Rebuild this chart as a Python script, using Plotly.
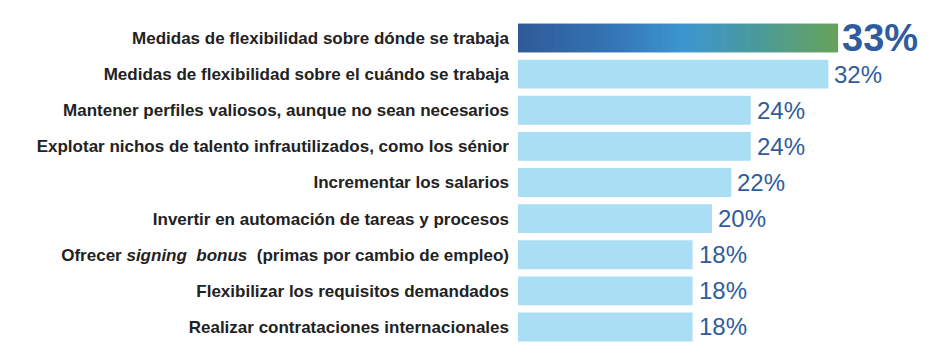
import plotly.graph_objects as go

categories = [
    "Medidas de flexibilidad sobre dónde se trabaja",
    "Medidas de flexibilidad sobre el cuándo se trabaja",
    "Mantener perfiles valiosos, aunque no sean necesarios",
    "Explotar nichos de talento infrautilizados, como los sénior",
    "Incrementar los salarios",
    "Invertir en automación de tareas y procesos",
    "Ofrecer <i>signing  bonus</i>  (primas por cambio de empleo)",
    "Flexibilizar los requisitos demandados",
    "Realizar contrataciones internacionales",
]
values = [33, 32, 24, 24, 22, 20, 18, 18, 18]
labels = ["33%", "32%", "24%", "24%", "22%", "20%", "18%", "18%", "18%"]

LIGHT = "#aadef5"
LABEL_BLUE = "#2f5c9c"
N_SEG = 80

fig = go.Figure()

fig.add_trace(go.Bar(
    y=categories[1:], x=values[1:], orientation="h",
    marker=dict(color=LIGHT, line=dict(width=0)),
    width=0.8, hoverinfo="skip", showlegend=False,
))

v0 = values[0]
seg_w = v0 / N_SEG
fig.add_trace(go.Bar(
    y=[categories[0]] * N_SEG,
    x=[seg_w * 1.02] * N_SEG,
    base=[seg_w * i for i in range(N_SEG)],
    orientation="h",
    marker=dict(
        color=[i / (N_SEG - 1) for i in range(N_SEG)],
        colorscale=[[0, "#2f5a98"], [0.3, "#3476b6"], [0.52, "#3c97d1"],
                    [0.75, "#4a9a9c"], [1, "#66a25c"]],
        cmin=0, cmax=1, line=dict(width=0),
    ),
    width=0.8, hoverinfo="skip", showlegend=False,
))

annotations = []
for i, (c, v, t) in enumerate(zip(categories, values, labels)):
    first = i == 0
    annotations.append(dict(
        x=v, y=c, xref="x", yref="y", text=t, showarrow=False,
        xanchor="left", yanchor="middle", xshift=2 if first else 4,
        font=dict(family="Liberation Sans, Arial, sans-serif",
                  size=38 if first else 24, color=LABEL_BLUE,
                  weight="bold" if first else "normal"),
    ))

fig.update_layout(
    width=930, height=341,
    margin=dict(l=510, r=0, t=7, b=4, autoexpand=False),
    paper_bgcolor="white", plot_bgcolor="white",
    barmode="overlay",
    annotations=annotations,
    xaxis=dict(range=[0, 43.31], visible=False, fixedrange=True),
    yaxis=dict(
        categoryorder="array", categoryarray=categories,
        autorange="reversed", showgrid=False, zeroline=False,
        showline=False, ticks="", ticklabelstandoff=8, automargin=False,
        tickfont=dict(family="Liberation Sans, Arial, sans-serif", size=17,
                      color="#222222", weight="bold"),
    ),
)

fig.write_html("out.html")
